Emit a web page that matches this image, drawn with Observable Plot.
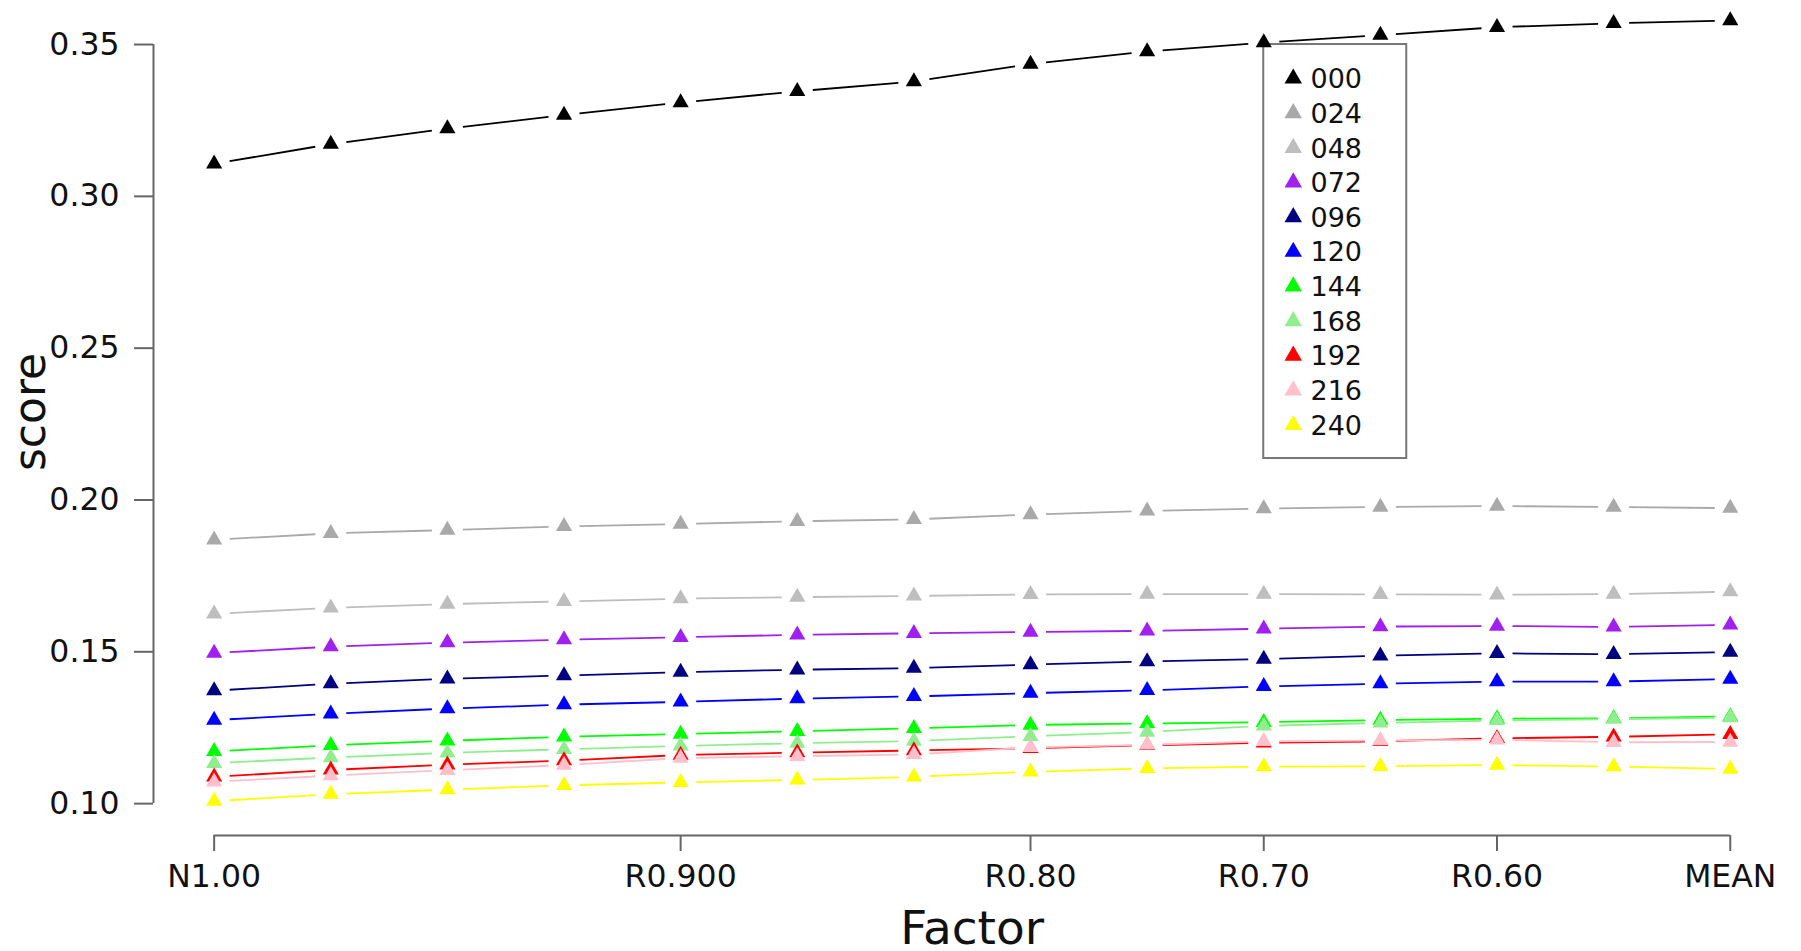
<!DOCTYPE html>
<html>
<head>
<meta charset="utf-8">
<script src="https://cdn.jsdelivr.net/npm/d3@7"></script>
<script src="https://cdn.jsdelivr.net/npm/@observablehq/plot@0.6"></script>
<style>
  html, body { margin: 0; padding: 0; background: #fff; }
  svg { display: block; }
</style>
</head>
<body>
<div id="chart"></div>
<script>
// ---- data ----
const factorIndex = [0, 1, 2, 3, 4, 5, 6, 7, 8, 9, 10, 11, 12, 13];
const tickIndex = [0, 4, 7, 9, 11, 13];
const tickLabels = ["N1.00", "R0.900", "R0.80", "R0.70", "R0.60", "MEAN"];
const yTicks = [0.10, 0.15, 0.20, 0.25, 0.30, 0.35];

const seriesNames = ["000", "024", "048", "072", "096", "120", "144", "168", "192", "216", "240"];
const seriesColors = ["#000000", "#a9a9a9", "#bebebe", "#a020f0", "#000080", "#0000ff",
                      "#00ff00", "#90ee90", "#ff0000", "#ffc0cb", "#ffff00"];

const s000 = [0.3107, 0.3172, 0.3223, 0.3268, 0.3309, 0.3346, 0.3378, 0.3436, 0.3477, 0.3506, 0.3531, 0.3557, 0.3570, 0.3579];
const s024 = [0.1869, 0.1890, 0.1901, 0.1913, 0.1921, 0.1930, 0.1936, 0.1952, 0.1964, 0.1972, 0.1977, 0.1980, 0.1977, 0.1973];
const s048 = [0.1625, 0.1645, 0.1657, 0.1666, 0.1675, 0.1680, 0.1684, 0.1689, 0.1690, 0.1690, 0.1689, 0.1688, 0.1690, 0.1698];
const s072 = [0.1496, 0.1517, 0.1530, 0.1540, 0.1548, 0.1556, 0.1561, 0.1565, 0.1569, 0.1576, 0.1583, 0.1585, 0.1582, 0.1589];
const s096 = [0.1372, 0.1395, 0.1411, 0.1422, 0.1433, 0.1441, 0.1446, 0.1458, 0.1468, 0.1476, 0.1487, 0.1495, 0.1492, 0.1499];
const s120 = [0.1275, 0.1296, 0.1313, 0.1326, 0.1335, 0.1346, 0.1353, 0.1364, 0.1373, 0.1386, 0.1395, 0.1402, 0.1402, 0.1410];
const s144 = [0.1172, 0.1192, 0.1207, 0.1220, 0.1229, 0.1238, 0.1248, 0.1259, 0.1264, 0.1268, 0.1275, 0.1280, 0.1281, 0.1287];
const s168 = [0.1133, 0.1152, 0.1167, 0.1179, 0.1190, 0.1199, 0.1206, 0.1222, 0.1236, 0.1256, 0.1266, 0.1274, 0.1278, 0.1283];
const s192 = [0.1088, 0.1111, 0.1128, 0.1142, 0.1160, 0.1168, 0.1175, 0.1182, 0.1192, 0.1200, 0.1205, 0.1215, 0.1220, 0.1228];
const s216 = [0.1072, 0.1092, 0.1110, 0.1127, 0.1150, 0.1156, 0.1162, 0.1185, 0.1194, 0.1205, 0.1208, 0.1210, 0.1202, 0.1203];
const s240 = [0.1008, 0.1031, 0.1046, 0.1060, 0.1070, 0.1078, 0.1088, 0.1105, 0.1116, 0.1122, 0.1123, 0.1127, 0.1122, 0.1114];

const seriesValues = [s000, s024, s048, s072, s096, s120, s144, s168, s192, s216, s240];

// legend anchored at data coordinates (like R's legend(x, y))
const legendAt = { x: 9, y: 0.35 };

// ---- chart ----
const GAP = 0.133; // fraction of step left empty around each point (R type="b")
const xDomain = [-0.52, 13.52];
const yDomain = [0.0895, 0.3645];

function segments(vals) {
  return d3.range(vals.length - 1).map(i => {
    const a = vals[i], b = vals[i + 1];
    return {
      x1: factorIndex[i] + GAP, x2: factorIndex[i + 1] - GAP,
      y1: a + GAP * (b - a), y2: b - GAP * (b - a)
    };
  });
}

function legendMark(index, scales) {
  const x0 = scales.x(legendAt.x), y0 = scales.y(legendAt.y);
  const g = d3.create("svg:g");
  g.append("rect")
    .attr("x", x0).attr("y", y0).attr("width", 143).attr("height", 414)
    .attr("fill", "white").attr("stroke", "#777").attr("stroke-width", 2);
  const tri = d3.symbol(d3.symbolTriangle, Math.PI * 6.5 * 6.5)();
  seriesNames.forEach((name, k) => {
    const cy = y0 + 34.5 + k * 34.65;
    g.append("path")
      .attr("transform", `translate(${x0 + 30},${cy})`)
      .attr("d", tri).attr("fill", seriesColors[k]);
    g.append("text")
      .attr("x", x0 + 73).attr("y", cy).attr("dy", "0.36em")
      .attr("font-size", 27).attr("fill", "#111")
      .text(name);
  });
  return g.node();
}

const marks = [
  legendMark,
  Plot.ruleY([yDomain[0]], { x1: factorIndex[0], x2: factorIndex[factorIndex.length - 1], stroke: "#666", strokeWidth: 2 }),
  Plot.ruleX([xDomain[0]], { y1: yTicks[0], y2: yTicks[yTicks.length - 1], stroke: "#666", strokeWidth: 2 }),
  Plot.axisY({
    ticks: yTicks, tickFormat: d3.format(".2f"), tickSize: 19, tickPadding: 15,
    fontSize: 31.5, stroke: "#666", strokeWidth: 2, fill: "#111", label: null
  }),
  Plot.axisX({
    ticks: tickIndex, tickFormat: i => tickLabels[tickIndex.indexOf(i)], tickSize: 16, tickPadding: 13,
    fontSize: 31.5, stroke: "#666", strokeWidth: 2, fill: "#111", label: null
  }),
  Plot.text(["Factor"], {
    frameAnchor: "bottom", lineAnchor: "middle", textAnchor: "middle",
    dy: 93, fontSize: 47, fill: "#111", text: d => d
  }),
  Plot.text(["score"], {
    frameAnchor: "left", lineAnchor: "middle", textAnchor: "middle", rotate: -90,
    dx: -123, dy: -6, fontSize: 44, fill: "#111", text: d => d
  })
];

seriesValues.forEach((vals, k) => {
  marks.push(Plot.link(segments(vals), {
    x1: "x1", y1: "y1", x2: "x2", y2: "y2",
    stroke: seriesColors[k], strokeWidth: 1.8
  }));
  marks.push(Plot.dot(factorIndex.map((x, i) => ({ x, v: vals[i] })), {
    x: "x", y: "v", symbol: "triangle", r: 6, fill: seriesColors[k], stroke: "none"
  }));
});

const chart = Plot.plot({
  width: 1801,
  height: 951,
  marginLeft: 153,
  marginRight: 10.6,
  marginTop: 0,
  marginBottom: 116,
  style: { fontFamily: "'DejaVu Sans', sans-serif", background: "#fff", overflow: "visible" },
  x: { domain: xDomain, axis: null },
  y: { domain: yDomain, axis: null },
  marks
});
document.getElementById("chart").appendChild(chart);
</script>
</body>
</html>
